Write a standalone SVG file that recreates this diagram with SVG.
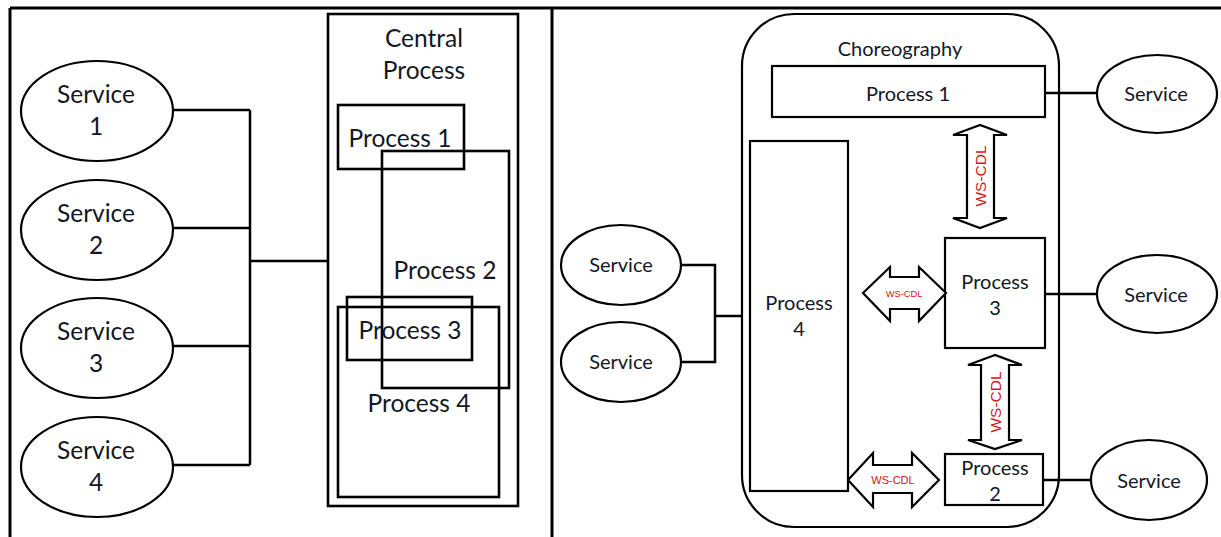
<svg xmlns="http://www.w3.org/2000/svg" width="1221" height="537" viewBox="0 0 1221 537">
  <style>
    .frame { fill: none; stroke: #000; stroke-width: 3; }
    .box { fill: none; stroke: #000; stroke-width: 2.6; }
    .rbox { fill: #fff; stroke: #000; stroke-width: 2.2; }
    .svc { fill: #fff; stroke: #000; stroke-width: 2.2; }
    .wire { fill: none; stroke: #000; stroke-width: 2.5; }
    .dbl { fill: #fff; stroke: #000; stroke-width: 2.2; stroke-linejoin: miter; }
    .lbl { font-family: Lato, "Open Sans", "Liberation Sans", sans-serif; fill: #121826; text-anchor: middle; }
    .big { font-size: 24.5px; }
    .mid { font-size: 20px; }
    .ws { font-family: "Liberation Sans", Arial, sans-serif; fill: #e01010; text-anchor: middle; }
  </style>

  <!-- panel frame -->
  <g id="frame">
    <line class="frame" x1="10" y1="8" x2="1221" y2="8"/>
    <line class="frame" x1="10" y1="8" x2="10" y2="537"/>
    <line class="frame" x1="552" y1="8" x2="552" y2="537"/>
  </g>

  <!-- ===== Orchestration (left) ===== -->
  <g id="left-connectors">
    <polyline class="wire" points="172,110 250,110"/>
    <polyline class="wire" points="172,228 250,228"/>
    <polyline class="wire" points="172,346 250,346"/>
    <polyline class="wire" points="172,465 250,465"/>
    <line class="wire" x1="250" y1="110" x2="250" y2="465"/>
    <line class="wire" x1="250" y1="261" x2="328" y2="261"/>
  </g>

  <g id="l-service1">
    <ellipse class="svc" cx="97" cy="111" rx="76" ry="50"/>
    <text class="lbl big" x="96" y="103">Service</text>
    <text class="lbl big" x="96" y="135">1</text>
  </g>
  <g id="l-service2">
    <ellipse class="svc" cx="97" cy="230" rx="76" ry="50"/>
    <text class="lbl big" x="96" y="222">Service</text>
    <text class="lbl big" x="96" y="254">2</text>
  </g>
  <g id="l-service3">
    <ellipse class="svc" cx="97" cy="348" rx="76" ry="50"/>
    <text class="lbl big" x="96" y="340">Service</text>
    <text class="lbl big" x="96" y="372">3</text>
  </g>
  <g id="l-service4">
    <ellipse class="svc" cx="97" cy="467" rx="76" ry="50"/>
    <text class="lbl big" x="96" y="459">Service</text>
    <text class="lbl big" x="96" y="491">4</text>
  </g>

  <g id="central-process">
    <rect class="box" x="328" y="14" width="190" height="492"/>
    <text class="lbl big" x="424" y="47">Central</text>
    <text class="lbl big" x="424" y="79">Process</text>
  </g>
  <g id="l-process1">
    <rect class="box" x="338" y="105" width="126" height="64"/>
    <text class="lbl big" x="400" y="147">Process 1</text>
  </g>
  <g id="l-process2">
    <rect class="box" x="382" y="151" width="127" height="237"/>
    <text class="lbl big" x="445" y="279">Process 2</text>
  </g>
  <g id="l-process3">
    <rect class="box" x="347" y="297" width="125" height="63"/>
    <text class="lbl big" x="410" y="339">Process 3</text>
  </g>
  <g id="l-process4">
    <rect class="box" x="338" y="307" width="161" height="190"/>
    <text class="lbl big" x="419" y="412">Process 4</text>
  </g>

  <!-- ===== Choreography (right) ===== -->
  <g id="right-connectors">
    <line class="wire" x1="1045" y1="93" x2="1097" y2="93"/>
    <line class="wire" x1="1045" y1="294" x2="1097" y2="294"/>
    <line class="wire" x1="1043" y1="480" x2="1090" y2="480"/>
    <polyline class="wire" points="682,265 715,265 715,362 682,362"/>
    <line class="wire" x1="715" y1="316" x2="750" y2="316"/>
  </g>

  <g id="choreography">
    <rect class="rbox" x="742" y="14" width="317" height="513" rx="52" ry="52"/>
    <text class="lbl mid" x="900" y="56" font-size="21">Choreography</text>
  </g>
  <!-- reconnect the right-hand wires across the rounded border -->
  <g id="right-connectors-inner">
    <line class="wire" x1="1045" y1="93" x2="1060" y2="93"/>
    <line class="wire" x1="1045" y1="294" x2="1060" y2="294"/>
    <line class="wire" x1="1043" y1="480" x2="1060" y2="480"/>
  </g>

  <g id="r-process1">
    <rect class="rbox" x="772" y="66" width="273" height="51"/>
    <text class="lbl mid" x="908" y="101">Process 1</text>
  </g>
  <g id="r-process4">
    <rect class="rbox" x="750" y="141" width="98" height="350"/>
    <text class="lbl mid" x="799" y="310">Process</text>
    <text class="lbl mid" x="799" y="336">4</text>
  </g>
  <g id="r-process3">
    <rect class="rbox" x="945" y="238" width="100" height="110"/>
    <text class="lbl mid" x="995" y="289">Process</text>
    <text class="lbl mid" x="995" y="315">3</text>
  </g>
  <g id="r-process2">
    <rect class="rbox" x="945" y="454" width="98" height="51"/>
    <text class="lbl mid" x="995" y="475">Process</text>
    <text class="lbl mid" x="995" y="501">2</text>
  </g>

  <g id="r-service1">
    <ellipse class="svc" cx="1157" cy="94" rx="60" ry="39"/>
    <text class="lbl mid" x="1156" y="101">Service</text>
  </g>
  <g id="r-service3">
    <ellipse class="svc" cx="1157" cy="294" rx="60" ry="39"/>
    <text class="lbl mid" x="1156" y="302">Service</text>
  </g>
  <g id="r-service2">
    <ellipse class="svc" cx="1149" cy="480" rx="58" ry="40"/>
    <text class="lbl mid" x="1149" y="488">Service</text>
  </g>
  <g id="r-service-a">
    <ellipse class="svc" cx="621" cy="265" rx="60" ry="40"/>
    <text class="lbl mid" x="621" y="272">Service</text>
  </g>
  <g id="r-service-b">
    <ellipse class="svc" cx="621" cy="362" rx="60" ry="40"/>
    <text class="lbl mid" x="621" y="369">Service</text>
  </g>

  <!-- WS-CDL double arrows -->
  <g id="ws-cdl-1-3">
    <polygon class="dbl" points="980,125 953,135 967,135 967,218 953,218 980,228 1007,218 994,218 994,135 1007,135"/>
    <text class="ws" font-size="15.5" transform="translate(986,176) rotate(-90)">WS-CDL</text>
  </g>
  <g id="ws-cdl-3-2">
    <polygon class="dbl" points="995,355 968,365 981,365 981,440 968,440 995,449 1022,440 1009,440 1009,365 1022,365"/>
    <text class="ws" font-size="15.5" transform="translate(1001,402) rotate(-90)">WS-CDL</text>
  </g>
  <g id="ws-cdl-4-3">
    <polygon class="dbl" points="863,293 890,267 890,277 919,277 919,267 946,293 919,321 919,309 890,309 890,321"/>
    <text class="ws" font-size="9.3" x="904" y="296.5">WS-CDL</text>
  </g>
  <g id="ws-cdl-4-2">
    <polygon class="dbl" points="848,480 873,453 873,465 912,465 912,453 939,480 912,507 912,493 873,493 873,507"/>
    <text class="ws" font-size="11" x="893" y="484">WS-CDL</text>
  </g>
</svg>
